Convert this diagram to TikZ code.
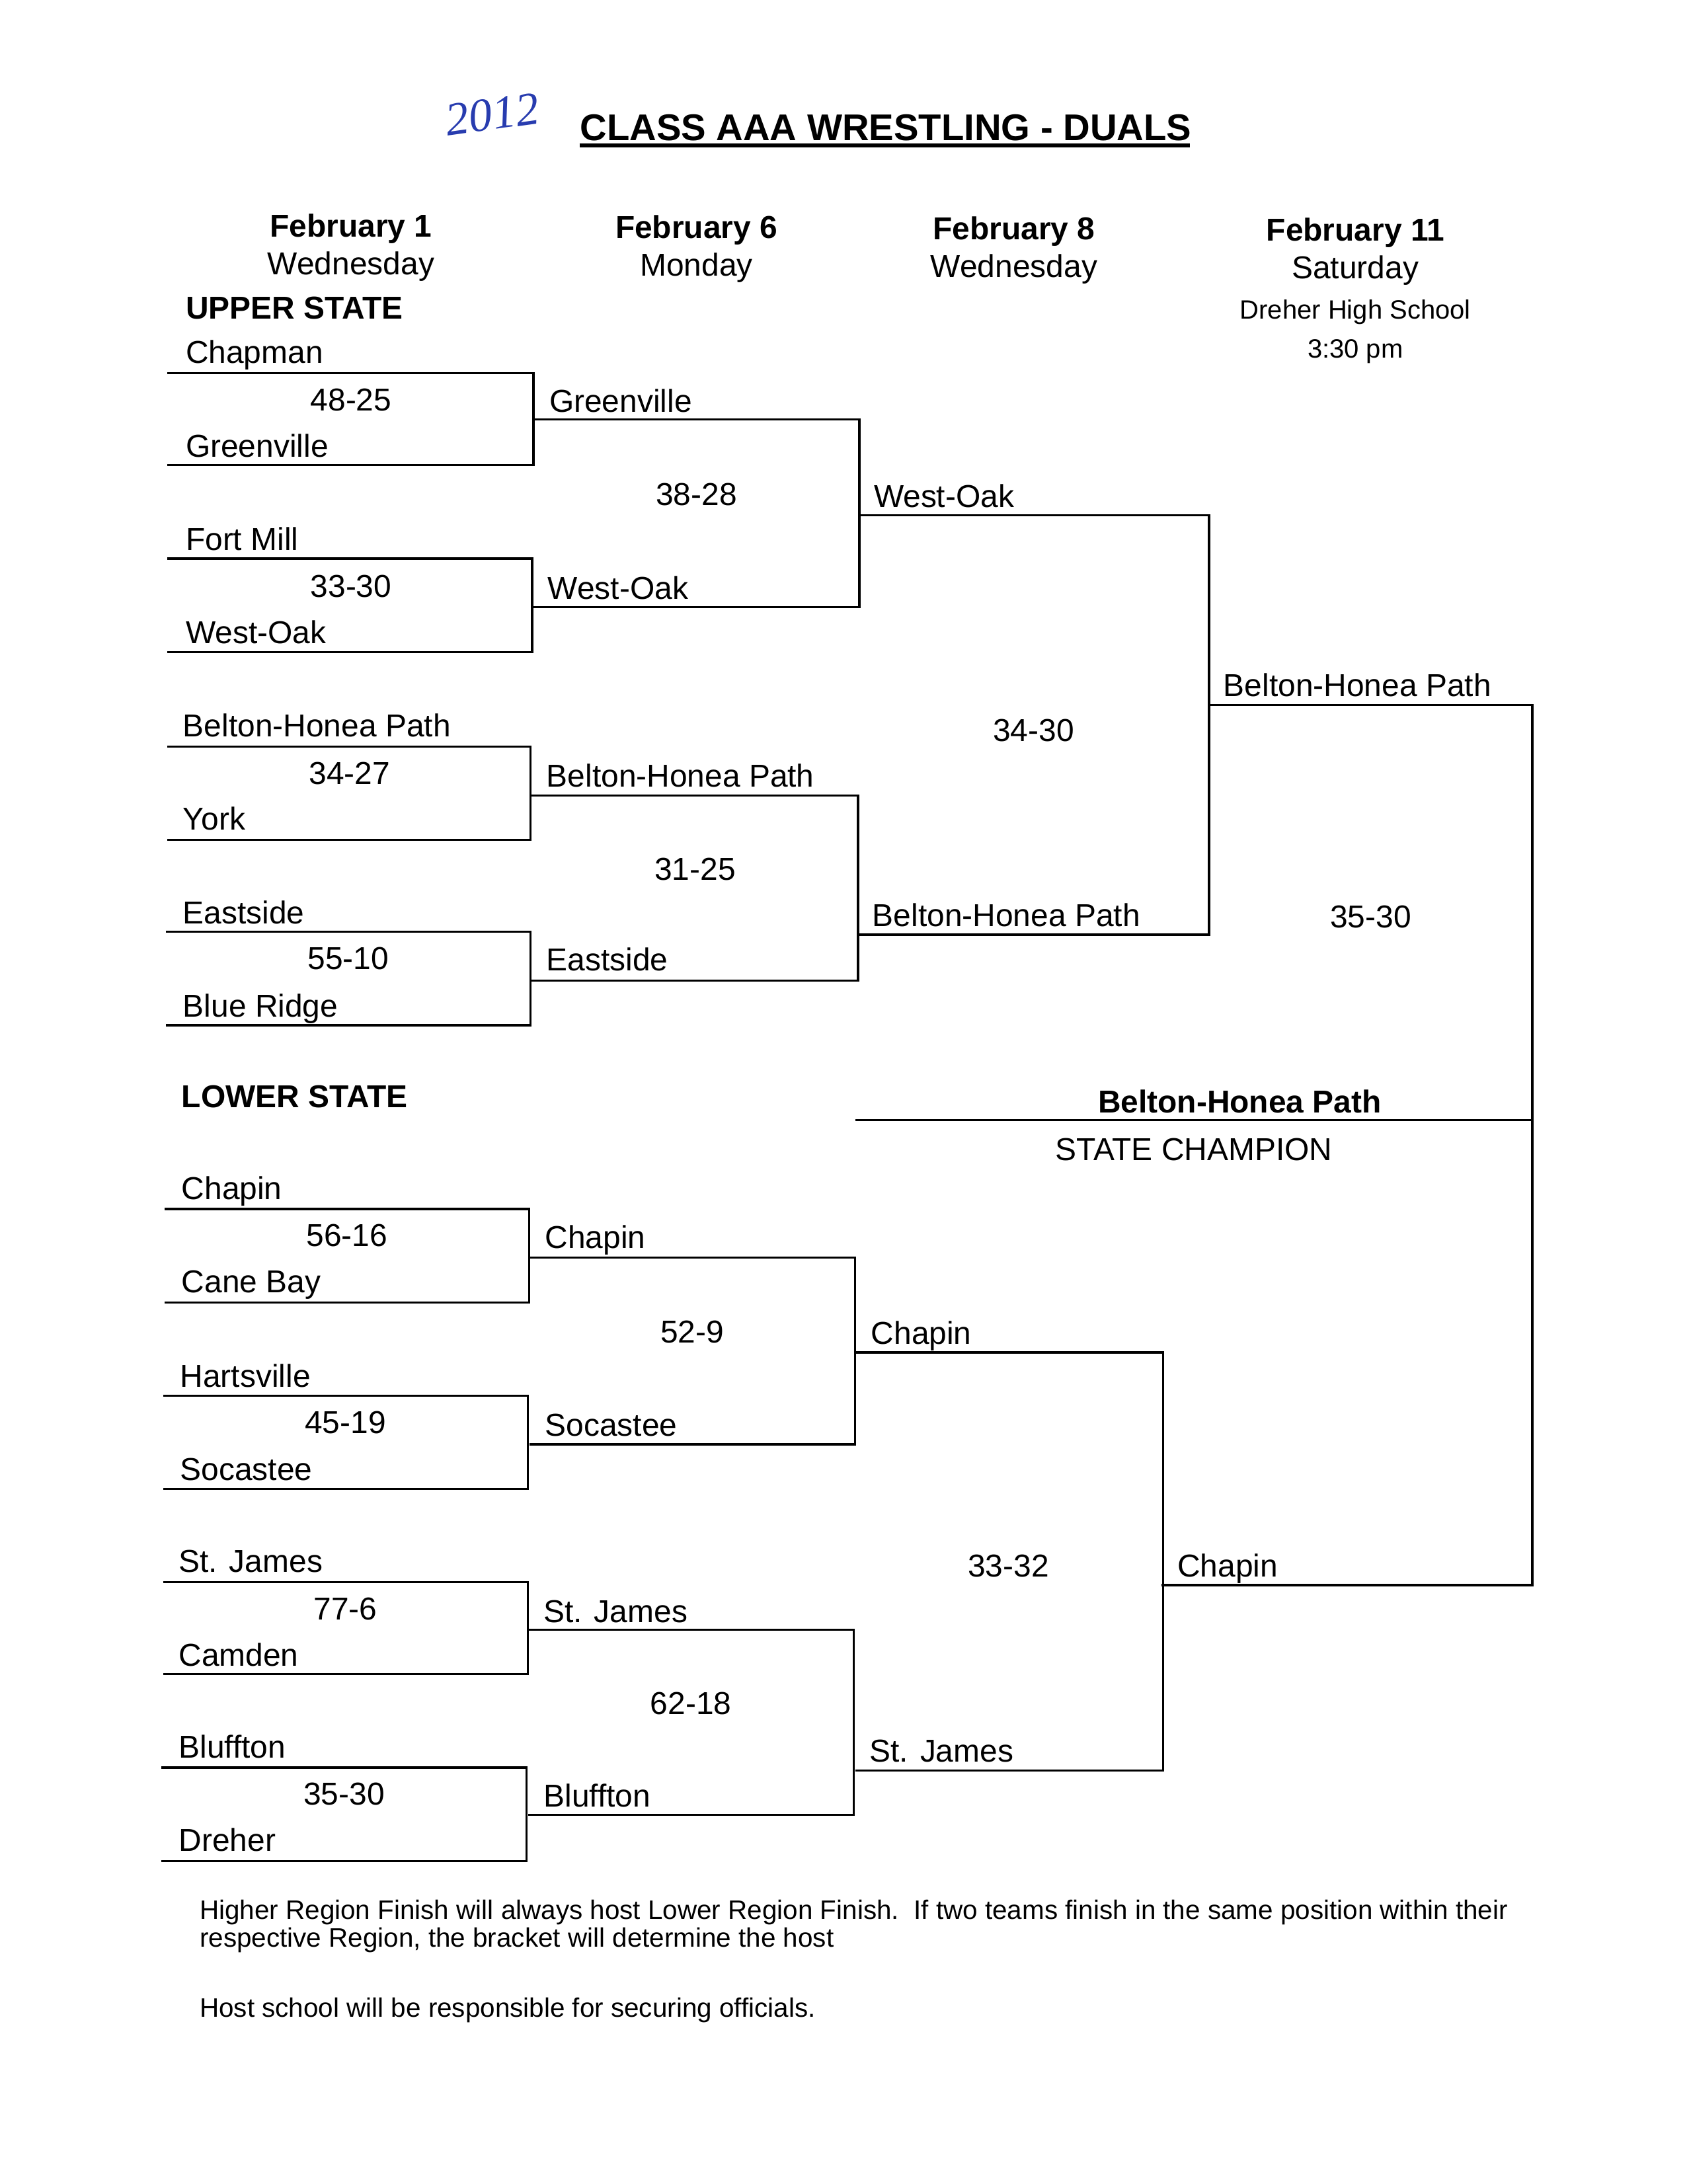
\documentclass[tikz,border=0pt]{standalone}
\usepackage{fontspec}
\setmainfont{Liberation Sans}
\newfontfamily\handfont{Liberation Serif}
\definecolor{inkblue}{RGB}{40,60,175}
\begin{document}
\begin{tikzpicture}[x=0.5057pt,y=-0.5057pt,
  bline/.style={line width=0.8pt,line join=miter},
  team/.style={anchor=base west,inner sep=0pt,font=\fontsize{11.5}{13}\selectfont},
  score/.style={anchor=base,inner sep=0pt,font=\fontsize{11.5}{13}\selectfont},
  hdrb/.style={anchor=base,inner sep=0pt,font=\fontsize{11.5}{13}\selectfont\bfseries},
  hdr/.style={anchor=base,inner sep=0pt,font=\fontsize{11.5}{13}\selectfont},
  small/.style={anchor=base,inner sep=0pt,font=\fontsize{9.6}{11}\selectfont},
  region/.style={anchor=base west,inner sep=0pt,font=\fontsize{11.5}{13}\selectfont\bfseries},
  note/.style={anchor=base west,inner sep=0pt,font=\fontsize{9.7}{11}\selectfont}]
\useasboundingbox (0,0) rectangle (1211,1568);
\newcommand\brk[5]{%
  \coordinate (#1-tl) at (#2,#4); \coordinate (#1-tr) at (#3,#4);
  \coordinate (#1-br) at (#3,#5); \coordinate (#1-bl) at (#2,#5);
  \draw[bline] (#1-tl) -- (#1-tr) -- (#1-br) -- (#1-bl);}
% title
\node[inner sep=0pt,anchor=base,text=inkblue,font=\handfont\itshape\fontsize{17}{20}\selectfont,rotate=8] (yr) at (355,93) {2012};
\node[inner sep=0pt,anchor=base west,font=\fontsize{13.5}{16}\selectfont\bfseries] (title) at (416,101) {CLASS AAA WRESTLING - DUALS};
\coordinate (ul1) at (416,104.5); \coordinate (ul2) at (854,104.5);
\draw[line width=1.5pt] (ul1) -- (ul2);
% headers
\node[hdrb] (h1a) at (252,170) {February 1};
\node[hdr]  (h1b) at (252,197) {Wednesday};
\node[hdrb] (h2a) at (500,171) {February 6};
\node[hdr]  (h2b) at (500,198) {Monday};
\node[hdrb] (h3a) at (728,172) {February 8};
\node[hdr]  (h3b) at (728,199) {Wednesday};
\node[hdrb] (h4a) at (973,173) {February 11};
\node[hdr]  (h4b) at (973,200) {Saturday};
\node[small] (h4c) at (973,229) {Dreher High School};
\node[small] (h4d) at (973,257) {3:30 pm};
\node[region] (us) at (133,229) {UPPER STATE};
\node[region] (ls) at (130,795) {LOWER STATE};
% brackets
\brk{u1a}{120}{383}{268}{334}
\brk{u1b}{120}{382}{401}{468}
\brk{u1c}{120}{381}{536}{603}
\brk{u1d}{119}{381}{669}{736}
\brk{u2a}{383}{617}{301}{436}
\brk{u2b}{381}{616}{571}{704}
\brk{u3}{617}{868}{370}{671}
\brk{l1a}{118}{380}{868}{935}
\brk{l1b}{117}{379}{1002}{1069}
\brk{l1c}{117}{379}{1136}{1202}
\brk{l1d}{116}{378}{1269}{1336}
\brk{l2a}{380}{614}{903}{1037}
\brk{l2b}{379}{613}{1170}{1303}
\brk{l3}{614}{835}{971}{1271}
\coordinate (f-tl) at (868,506); \coordinate (f-tr) at (1100,506);
\coordinate (f-br) at (1100,1138); \coordinate (f-bl) at (834,1138);
\draw[bline] (f-tl) -- (f-tr) -- (f-br) -- (f-bl);
\coordinate (ch-l) at (614,804); \coordinate (ch-r) at (1100,804);
\draw[bline] (ch-l) -- (ch-r);
% upper round 1
\node[team] (t1) at (133,261) {Chapman};
\node[score] (s1) at (252,295) {48-25};
\node[team] (t2) at (133,328) {Greenville};
\node[team] (t3) at (133,395) {Fort Mill};
\node[score] (s2) at (252,429) {33-30};
\node[team] (t4) at (133,462) {West-Oak};
\node[team] (t5) at (131,529) {Belton-Honea Path};
\node[score] (s3) at (251,563) {34-27};
\node[team] (t6) at (131,596) {York};
\node[team] (t7) at (131,663) {Eastside};
\node[score] (s4) at (250,696) {55-10};
\node[team] (t8) at (131,730) {Blue Ridge};
% upper round 2
\node[team] (r2a) at (394,296) {Greenville};
\node[score] (s5) at (500,363) {38-28};
\node[team] (r2b) at (393,430) {West-Oak};
\node[team] (r2c) at (392,565) {Belton-Honea Path};
\node[score] (s6) at (499,632) {31-25};
\node[team] (r2d) at (392,697) {Eastside};
% upper round 3
\node[team] (r3a) at (627,364) {West-Oak};
\node[score] (s7) at (742,532) {34-30};
\node[team] (r3b) at (626,665) {Belton-Honea Path};
% final
\node[team] (fa) at (878,500) {Belton-Honea Path};
\node[score] (s8) at (984,666) {35-30};
\node[team] (fb) at (845,1132) {Chapin};
\node[hdrb] (champ) at (890,799) {Belton-Honea Path};
\node[hdr] (champl) at (857,833) {STATE CHAMPION};
% lower round 1
\node[team] (b1) at (130,861) {Chapin};
\node[score] (q1) at (249,895) {56-16};
\node[team] (b2) at (130,928) {Cane Bay};
\node[team] (b3) at (129,996) {Hartsville};
\node[score] (q2) at (248,1029) {45-19};
\node[team] (b4) at (129,1063) {Socastee};
\node[team] (b5) at (128,1129) {St. James};
\node[score] (q3) at (248,1163) {77-6};
\node[team] (b6) at (128,1196) {Camden};
\node[team] (b7) at (128,1262) {Bluffton};
\node[score] (q4) at (247,1296) {35-30};
\node[team] (b8) at (128,1329) {Dreher};
% lower round 2
\node[team] (p2a) at (391,896) {Chapin};
\node[score] (q5) at (497,964) {52-9};
\node[team] (p2b) at (391,1031) {Socastee};
\node[team] (p2c) at (390,1165) {St. James};
\node[score] (q6) at (496,1231) {62-18};
\node[team] (p2d) at (390,1297) {Bluffton};
% lower round 3
\node[team] (p3a) at (625,965) {Chapin};
\node[score] (q7) at (724,1132) {33-32};
\node[team] (p3b) at (624,1265) {St. James};
% notes
\node[note] (n1) at (143,1378) {Higher Region Finish will always host Lower Region Finish.\ \ If two teams finish in the same position within their};
\node[note] (n2) at (143,1398) {respective Region, the bracket will determine the host};
\node[note] (n3) at (143,1448) {Host school will be responsible for securing officials.};
\end{tikzpicture}
\end{document}
